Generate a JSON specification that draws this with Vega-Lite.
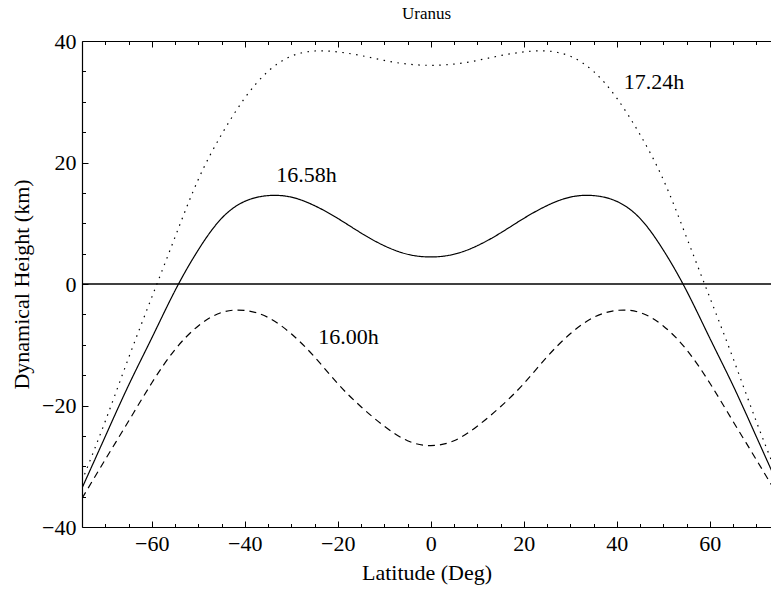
{
  "$schema": "https://vega.github.io/schema/vega-lite/v6.json",
  "width": 689,
  "height": 486,
  "autosize": {"type": "none"},
  "padding": {"left": 82, "top": 41, "right": 0, "bottom": 63},
  "background": "white",
  "config": {
    "view": {"stroke": null},
    "font": "Liberation Serif",
    "axis": {
      "domainColor": "black", "domainWidth": 1.2,
      "tickColor": "black", "tickWidth": 1,
      "labelColor": "black", "titleColor": "black",
      "labelFont": "Liberation Serif", "titleFont": "Liberation Serif",
      "labelFontSize": 22, "titleFontSize": 22, "titleFontWeight": "normal",
      "grid": false
    }
  },
  "title": {"text": "Uranus", "font": "Liberation Serif", "fontSize": 17, "fontWeight": "normal", "color": "black", "offset": 7},
  "datasets": {
    "curves": [
      {"lat": -75, "h": -33.6, "period": "16.58h"}, {"lat": -70, "h": -25.1, "period": "16.58h"}, {"lat": -65, "h": -16.7, "period": "16.58h"}, {"lat": -60, "h": -8.9, "period": "16.58h"}, {"lat": -55, "h": -1.1, "period": "16.58h"}, {"lat": -50, "h": 5.6, "period": "16.58h"}, {"lat": -45, "h": 10.8, "period": "16.58h"}, {"lat": -40, "h": 13.6, "period": "16.58h"}, {"lat": -35, "h": 14.55, "period": "16.58h"}, {"lat": -30, "h": 14.3, "period": "16.58h"}, {"lat": -25, "h": 12.9, "period": "16.58h"}, {"lat": -20, "h": 10.8, "period": "16.58h"}, {"lat": -15, "h": 8.4, "period": "16.58h"}, {"lat": -10, "h": 6.3, "period": "16.58h"}, {"lat": -5, "h": 4.9, "period": "16.58h"}, {"lat": 0, "h": 4.45, "period": "16.58h"}, {"lat": 5, "h": 4.9, "period": "16.58h"}, {"lat": 10, "h": 6.3, "period": "16.58h"}, {"lat": 15, "h": 8.4, "period": "16.58h"}, {"lat": 20, "h": 10.8, "period": "16.58h"}, {"lat": 25, "h": 12.9, "period": "16.58h"}, {"lat": 30, "h": 14.3, "period": "16.58h"}, {"lat": 35, "h": 14.55, "period": "16.58h"}, {"lat": 40, "h": 13.6, "period": "16.58h"}, {"lat": 45, "h": 10.8, "period": "16.58h"}, {"lat": 50, "h": 5.6, "period": "16.58h"}, {"lat": 55, "h": -1.1, "period": "16.58h"}, {"lat": 60, "h": -8.9, "period": "16.58h"}, {"lat": 65, "h": -16.7, "period": "16.58h"}, {"lat": 70, "h": -25.1, "period": "16.58h"}, {"lat": 75, "h": -33.6, "period": "16.58h"},
      {"lat": -75, "h": -32.4, "period": "17.24h"}, {"lat": -70, "h": -22.6, "period": "17.24h"}, {"lat": -65, "h": -12.2, "period": "17.24h"}, {"lat": -60, "h": -2.2, "period": "17.24h"}, {"lat": -55, "h": 7.7, "period": "17.24h"}, {"lat": -50, "h": 17.2, "period": "17.24h"}, {"lat": -45, "h": 24.6, "period": "17.24h"}, {"lat": -40, "h": 30.6, "period": "17.24h"}, {"lat": -35, "h": 35.0, "period": "17.24h"}, {"lat": -30, "h": 37.5, "period": "17.24h"}, {"lat": -25, "h": 38.35, "period": "17.24h"}, {"lat": -20, "h": 38.2, "period": "17.24h"}, {"lat": -15, "h": 37.6, "period": "17.24h"}, {"lat": -10, "h": 36.8, "period": "17.24h"}, {"lat": -5, "h": 36.2, "period": "17.24h"}, {"lat": 0, "h": 36.0, "period": "17.24h"}, {"lat": 5, "h": 36.2, "period": "17.24h"}, {"lat": 10, "h": 36.8, "period": "17.24h"}, {"lat": 15, "h": 37.6, "period": "17.24h"}, {"lat": 20, "h": 38.2, "period": "17.24h"}, {"lat": 25, "h": 38.35, "period": "17.24h"}, {"lat": 30, "h": 37.5, "period": "17.24h"}, {"lat": 35, "h": 35.0, "period": "17.24h"}, {"lat": 40, "h": 30.6, "period": "17.24h"}, {"lat": 45, "h": 24.6, "period": "17.24h"}, {"lat": 50, "h": 17.2, "period": "17.24h"}, {"lat": 55, "h": 7.7, "period": "17.24h"}, {"lat": 60, "h": -2.2, "period": "17.24h"}, {"lat": 65, "h": -12.2, "period": "17.24h"}, {"lat": 70, "h": -22.6, "period": "17.24h"}, {"lat": 75, "h": -32.4, "period": "17.24h"},
      {"lat": -75, "h": -35.3, "period": "16.00h"}, {"lat": -70, "h": -28.9, "period": "16.00h"}, {"lat": -65, "h": -22.6, "period": "16.00h"}, {"lat": -60, "h": -16.3, "period": "16.00h"}, {"lat": -55, "h": -10.8, "period": "16.00h"}, {"lat": -50, "h": -6.9, "period": "16.00h"}, {"lat": -45, "h": -4.7, "period": "16.00h"}, {"lat": -40, "h": -4.35, "period": "16.00h"}, {"lat": -35, "h": -5.5, "period": "16.00h"}, {"lat": -30, "h": -8.2, "period": "16.00h"}, {"lat": -25, "h": -12.0, "period": "16.00h"}, {"lat": -20, "h": -16.4, "period": "16.00h"}, {"lat": -15, "h": -20.2, "period": "16.00h"}, {"lat": -10, "h": -23.4, "period": "16.00h"}, {"lat": -5, "h": -25.8, "period": "16.00h"}, {"lat": 0, "h": -26.6, "period": "16.00h"}, {"lat": 5, "h": -25.8, "period": "16.00h"}, {"lat": 10, "h": -23.4, "period": "16.00h"}, {"lat": 15, "h": -20.2, "period": "16.00h"}, {"lat": 20, "h": -16.4, "period": "16.00h"}, {"lat": 25, "h": -12.0, "period": "16.00h"}, {"lat": 30, "h": -8.2, "period": "16.00h"}, {"lat": 35, "h": -5.5, "period": "16.00h"}, {"lat": 40, "h": -4.35, "period": "16.00h"}, {"lat": 45, "h": -4.7, "period": "16.00h"}, {"lat": 50, "h": -6.9, "period": "16.00h"}, {"lat": 55, "h": -10.8, "period": "16.00h"}, {"lat": 60, "h": -16.3, "period": "16.00h"}, {"lat": 65, "h": -22.6, "period": "16.00h"}, {"lat": 70, "h": -28.9, "period": "16.00h"}, {"lat": 75, "h": -35.3, "period": "16.00h"}
    ],
    "labels": [
      {"lat": 48.0, "h": 33.3, "text": "17.24h"},
      {"lat": -26.7, "h": 18.0, "text": "16.58h"},
      {"lat": -17.7, "h": -8.7, "text": "16.00h"}
    ],
    "zero": [{"h": 0}]
  },
  "layer": [
    {
      "data": {"name": "zero"},
      "mark": {"type": "rule", "color": "black", "strokeWidth": 1.4},
      "encoding": {
        "y": {"field": "h", "type": "quantitative", "scale": {"domain": [-40, 40], "nice": false, "zero": false}, "axis": null}
      }
    },
    {
      "data": {"name": "curves"},
      "mark": {"type": "line", "color": "black", "strokeWidth": 1.2, "interpolate": "natural", "clip": true},
      "encoding": {
        "x": {
          "field": "lat", "type": "quantitative",
          "scale": {"domain": [-75, 73.17], "nice": false, "zero": false},
          "axis": {
            "orient": "bottom", "title": "Latitude (Deg)",
            "values": [-70, -65, -60, -55, -50, -45, -40, -35, -30, -25, -20, -15, -10, -5, 0, 5, 10, 15, 20, 25, 30, 35, 40, 45, 50, 55, 60, 65, 70],
            "tickSize": {"condition": {"test": "datum.value % 20 === 0", "value": -6}, "value": -3.5},
            "labelExpr": "datum.value % 20 === 0 ? datum.label : ''",
            "labelPadding": 12, "titlePadding": 6, "labelOverlap": false, "labelFlush": false
          }
        },
        "y": {
          "field": "h", "type": "quantitative",
          "scale": {"domain": [-40, 40], "nice": false, "zero": false},
          "axis": {
            "orient": "left", "title": "Dynamical Height (km)",
            "values": [-40, -35, -30, -25, -20, -15, -10, -5, 0, 5, 10, 15, 20, 25, 30, 35, 40],
            "tickSize": {"condition": {"test": "datum.value % 20 === 0", "value": -6}, "value": -3.5},
            "labelExpr": "datum.value % 20 === 0 ? datum.label : ''",
            "labelPadding": 12, "titlePadding": 8, "labelOverlap": false, "labelFlush": false
          }
        },
        "strokeDash": {
          "field": "period", "type": "nominal",
          "scale": {"domain": ["16.00h", "16.58h", "17.24h"], "range": [[7, 5], [1, 0], [1.5, 5.5]]},
          "legend": null
        }
      }
    },
    {
      "data": {"name": "labels"},
      "mark": {"type": "text", "font": "Liberation Serif", "fontSize": 22, "color": "black", "align": "center", "baseline": "middle"},
      "encoding": {
        "x": {
          "field": "lat", "type": "quantitative",
          "scale": {"domain": [-75, 73.17], "nice": false, "zero": false},
          "axis": {
            "orient": "top", "title": null, "labels": false,
            "values": [-70, -65, -60, -55, -50, -45, -40, -35, -30, -25, -20, -15, -10, -5, 0, 5, 10, 15, 20, 25, 30, 35, 40, 45, 50, 55, 60, 65, 70],
            "tickSize": {"condition": {"test": "datum.value % 20 === 0", "value": -6}, "value": -3.5}
          }
        },
        "y": {"field": "h", "type": "quantitative", "scale": {"domain": [-40, 40], "nice": false, "zero": false}, "axis": null},
        "text": {"field": "text"}
      }
    }
  ],
  "resolve": {"axis": {"x": "independent", "y": "independent"}}
}
